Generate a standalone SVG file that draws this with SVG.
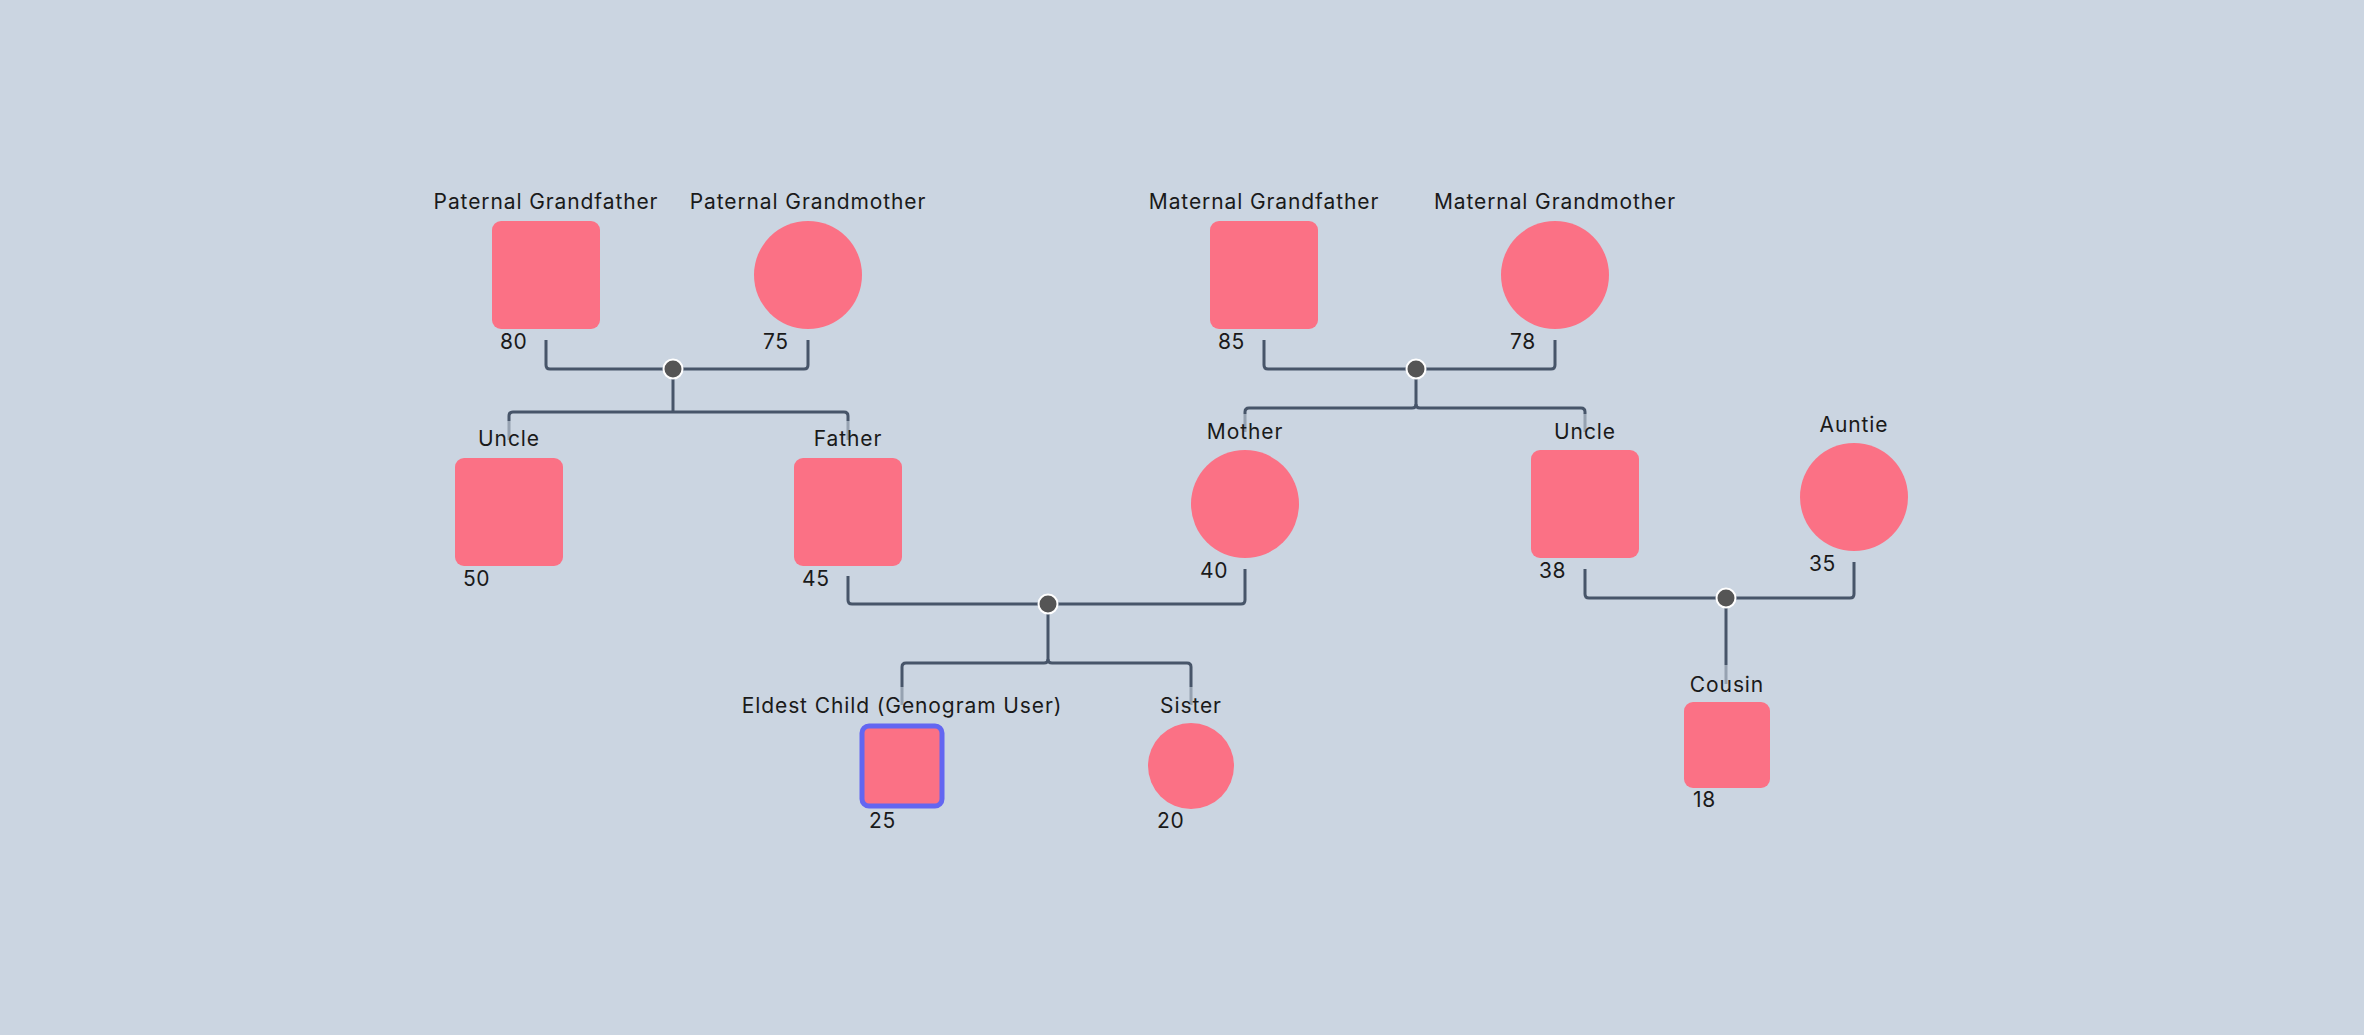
<svg xmlns="http://www.w3.org/2000/svg" width="2364" height="1035" viewBox="0 0 2364 1035">
  <style>
    .bg { fill: #CBD5E1; }
    .shape { fill: #FB7185; }
    .self { fill: #FB7185; stroke: #6366F1; stroke-width: 5; }
    .lbl { font-family: Inter, "Liberation Sans", sans-serif; font-size: 21px; letter-spacing: 0.9px; fill: #1a1a1a; text-anchor: middle; }
    .age { font-family: Inter, "Liberation Sans", sans-serif; font-size: 21px; letter-spacing: 0.6px; fill: #1a1a1a; }
    .lblbg { fill: #CBD5E1; fill-opacity: 0.6; }
    .line { fill: none; stroke: #475569; stroke-width: 3; stroke-linecap: butt; stroke-linejoin: round; }
    .dot { fill: #555555; stroke: #ffffff; stroke-width: 2; }
  </style>
  <rect class="bg" x="0" y="0" width="2364" height="1035"/>

  <g id="connectors">
    <path class="line" d="M546,340 V365 Q546,369 550,369 H804 Q808,369 808,365 V340"/>
    <path class="line" d="M673,369 V412"/>
    <path class="line" d="M509,440 V416 Q509,412 513,412 H844 Q848,412 848,416 V440"/>

    <path class="line" d="M1264,340 V365 Q1264,369 1268,369 H1551 Q1555,369 1555,365 V340"/>
    <path class="line" d="M1416,369 V404 Q1416,408 1412,408 H1249 Q1245,408 1245,412 V432"/>
    <path class="line" d="M1416,404 Q1416,408 1420,408 H1581 Q1585,408 1585,412 V432"/>

    <path class="line" d="M848,576 V600 Q848,604 852,604 H1241 Q1245,604 1245,600 V569"/>
    <path class="line" d="M1048,604 V659 Q1048,663 1044,663 H906 Q902,663 902,667 V705"/>
    <path class="line" d="M1048,659 Q1048,663 1052,663 H1187 Q1191,663 1191,667 V705"/>

    <path class="line" d="M1585,569 V594 Q1585,598 1589,598 H1850 Q1854,598 1854,594 V562"/>
    <path class="line" d="M1726,598 V684"/>

    <circle class="dot" cx="673" cy="369" r="9.5"/>
    <circle class="dot" cx="1416" cy="369" r="9.5"/>
    <circle class="dot" cx="1048" cy="604" r="9.5"/>
    <circle class="dot" cx="1726" cy="598" r="9.5"/>
  </g>

  <g id="paternal-grandfather">
    <rect class="lblbg" x="430" y="184" width="232" height="32"/>
    <text class="lbl" x="546" y="209">Paternal Grandfather</text>
    <rect class="shape" x="492" y="221" width="108" height="108" rx="9"/>
    <text class="age" x="500" y="349">80</text>
  </g>
  <g id="paternal-grandmother">
    <rect class="lblbg" x="685" y="184" width="246" height="32"/>
    <text class="lbl" x="808" y="209">Paternal Grandmother</text>
    <circle class="shape" cx="808" cy="275" r="54"/>
    <text class="age" x="763" y="349">75</text>
  </g>
  <g id="maternal-grandfather">
    <rect class="lblbg" x="1148" y="184" width="232" height="32"/>
    <text class="lbl" x="1264" y="209">Maternal Grandfather</text>
    <rect class="shape" x="1210" y="221" width="108" height="108" rx="9"/>
    <text class="age" x="1218" y="349">85</text>
  </g>
  <g id="maternal-grandmother">
    <rect class="lblbg" x="1431" y="184" width="248" height="32"/>
    <text class="lbl" x="1555" y="209">Maternal Grandmother</text>
    <circle class="shape" cx="1555" cy="275" r="54"/>
    <text class="age" x="1510" y="349">78</text>
  </g>
  <g id="paternal-uncle">
    <rect class="lblbg" x="475" y="421" width="68" height="32"/>
    <text class="lbl" x="509" y="446">Uncle</text>
    <rect class="shape" x="455" y="458" width="108" height="108" rx="9"/>
    <text class="age" x="463" y="586">50</text>
  </g>
  <g id="father">
    <rect class="lblbg" x="810" y="421" width="76" height="32"/>
    <text class="lbl" x="848" y="446">Father</text>
    <rect class="shape" x="794" y="458" width="108" height="108" rx="9"/>
    <text class="age" x="802" y="586">45</text>
  </g>
  <g id="mother">
    <rect class="lblbg" x="1204" y="414" width="82" height="32"/>
    <text class="lbl" x="1245" y="439">Mother</text>
    <circle class="shape" cx="1245" cy="504" r="54"/>
    <text class="age" x="1200" y="578">40</text>
  </g>
  <g id="maternal-uncle">
    <rect class="lblbg" x="1551" y="414" width="68" height="32"/>
    <text class="lbl" x="1585" y="439">Uncle</text>
    <rect class="shape" x="1531" y="450" width="108" height="108" rx="9"/>
    <text class="age" x="1539" y="578">38</text>
  </g>
  <g id="auntie">
    <rect class="lblbg" x="1815" y="407" width="78" height="32"/>
    <text class="lbl" x="1854" y="432">Auntie</text>
    <circle class="shape" cx="1854" cy="497" r="54"/>
    <text class="age" x="1809" y="571">35</text>
  </g>
  <g id="eldest-child">
    <rect class="lblbg" x="738" y="687" width="328" height="32"/>
    <text class="lbl" x="902" y="713">Eldest Child (Genogram User)</text>
    <rect class="self" x="862" y="726" width="80" height="80" rx="7"/>
    <text class="age" x="869" y="828">25</text>
  </g>
  <g id="sister">
    <rect class="lblbg" x="1156" y="687" width="70" height="32"/>
    <text class="lbl" x="1191" y="713">Sister</text>
    <circle class="shape" cx="1191" cy="766" r="43"/>
    <text class="age" x="1157" y="828">20</text>
  </g>
  <g id="cousin">
    <rect class="lblbg" x="1685" y="665" width="84" height="32"/>
    <text class="lbl" x="1727" y="692">Cousin</text>
    <rect class="shape" x="1684" y="702" width="86" height="86" rx="9"/>
    <text class="age" x="1693" y="807">18</text>
  </g>
</svg>
